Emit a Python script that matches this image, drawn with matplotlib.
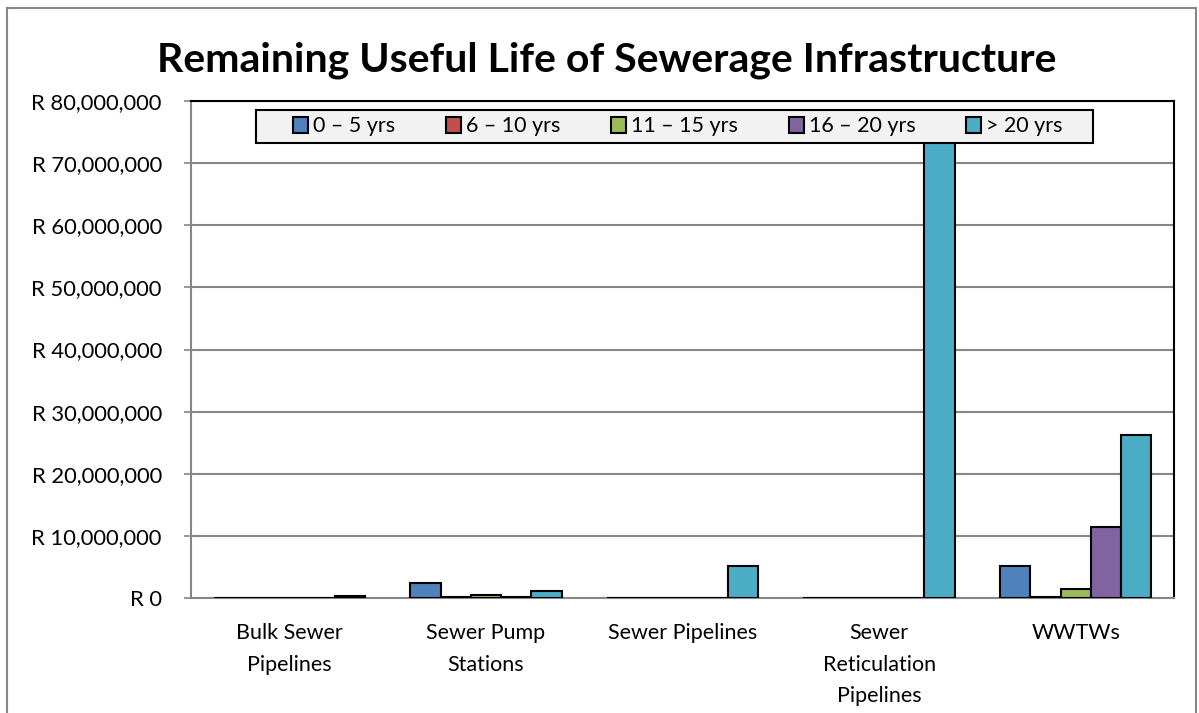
import matplotlib
matplotlib.use("Agg")
import matplotlib.pyplot as plt
from matplotlib.patches import Rectangle
from matplotlib.ticker import FuncFormatter
import numpy as np

categories = ["Bulk Sewer\nPipelines", "Sewer Pump\nStations", "Sewer Pipelines",
              "Sewer\nReticulation\nPipelines", "WWTWs"]
series_names = ["0 – 5 yrs", "6 – 10 yrs", "11 – 15 yrs", "16 – 20 yrs", "> 20 yrs"]
vals_0_5 = [0, 2_460_000, 0, 0, 5_150_000]
vals_6_10 = [0, 100_000, 0, 0, 100_000]
vals_11_15 = [0, 530_000, 0, 0, 1_400_000]
vals_16_20 = [0, 100_000, 0, 0, 11_350_000]
vals_20p = [280_000, 1_130_000, 5_150_000, 76_000_000, 26_200_000]
series_values = [vals_0_5, vals_6_10, vals_11_15, vals_16_20, vals_20p]
colors = ["#4F81BD", "#C0504D", "#9BBB59", "#8064A2", "#4BACC6"]
yticks = list(range(0, 80_000_001, 10_000_000))

FONT = ["Lato", "DejaVu Sans"]
plt.rcParams['font.family'] = FONT

fig = plt.figure(figsize=(11.99, 7.13), dpi=100)
fig.patches.append(Rectangle((7/1199, -0.1), (1196-7)/1199, 1.1 - 8/713, transform=fig.transFigure,
                             fill=False, edgecolor="#868686", linewidth=1.5, zorder=0))
ax = fig.add_axes([191/1199, 1-598/713, (1174-191)/1199, (598-101)/713])

x = np.arange(len(categories))
w = 1/6.5
for j, (name, vals, c) in enumerate(zip(series_names, series_values, colors)):
    ax.bar(x + (j-2)*w, vals, width=w, color=c, edgecolor="black", linewidth=1.5,
           label=name, zorder=3)

ax.set_xlim(-0.5, len(categories)-0.5)
ax.set_ylim(0, 80_000_000)
ax.set_yticks(yticks)
ax.yaxis.set_major_formatter(FuncFormatter(lambda v, p: "R 0" if v == 0 else f"R {int(v):,}"))
ax.set_xticks(x)
ax.set_xticklabels(categories, fontsize=15.5, linespacing=1.72)
ax.tick_params(axis='x', length=0, pad=18)
ax.tick_params(axis='y', length=5, color="#868686", width=1.2, labelsize=15.8, pad=16)
ax.grid(axis='y', color="#868686", linewidth=1.5, zorder=0)
ax.set_axisbelow(True)
for s in ["left", "bottom"]:
    ax.spines[s].set_color("#868686")
    ax.spines[s].set_linewidth(1.5)
for s in ["top", "right"]:
    ax.spines[s].set_color("black")
    ax.spines[s].set_linewidth(1.5)

fig.text(0.506, 1-60/713, "Remaining Useful Life of Sewerage Infrastructure", ha="center", va="center",
         fontsize=29.5, fontweight="bold")

# legend box
lx0, lx1, ly0, ly1 = 256, 1093, 143, 110
ax.add_patch(Rectangle(((lx0-191)/983, (598-ly0)/497), (lx1-lx0)/983, (ly0-ly1)/497,
                       transform=ax.transAxes, facecolor="#F2F2F2", edgecolor="black",
                       linewidth=1.5, zorder=9, clip_on=False))
leg = ax.legend(loc="center", bbox_to_anchor=((293-191)/983, (598-143)/497, (1063-293)/983, 33/497),
                mode="expand", ncol=5, fontsize=15.5, frameon=False,
                handlelength=0.7, handleheight=0.7, handletextpad=0.25, borderpad=0, borderaxespad=0)
leg.set_zorder(10)

fig.savefig("out.png", dpi=100)
